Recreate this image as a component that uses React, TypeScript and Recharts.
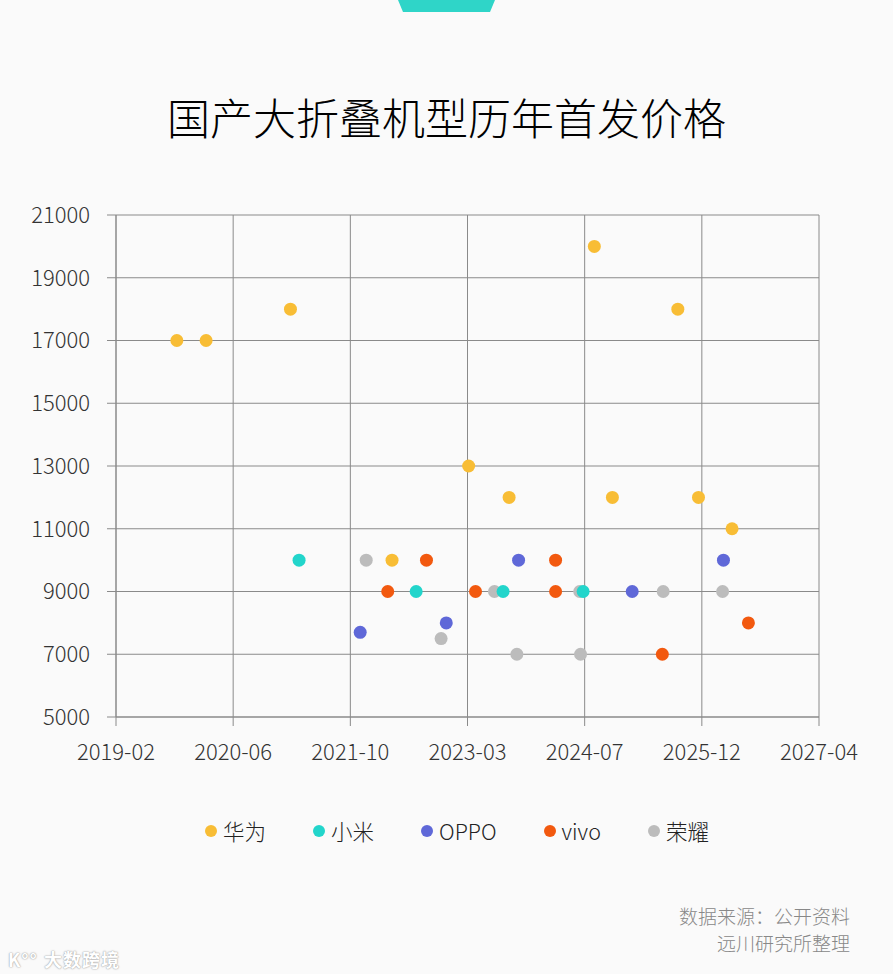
import {
  ScatterChart,
  Scatter,
  XAxis,
  YAxis,
  CartesianGrid,
} from "recharts";

// x values are decimal years (launch date), y values are launch prices (CNY)
const xTickLabels = ["2019-02", "2020-06", "2021-10", "2023-03", "2024-07", "2025-12", "2027-04"];
const yTicks = [5000, 7000, 9000, 11000, 13000, 15000, 17000, 19000, 21000];

const huaweiDates = [2019.79, 2020.13, 2021.11, 2022.29, 2023.18, 2023.65, 2024.64, 2024.85, 2025.61, 2025.85, 2026.24];
const huaweiPrices = [17000, 17000, 18000, 10000, 13000, 12000, 20000, 12000, 18000, 12000, 11000];

const xiaomiDates = [2021.21, 2022.57, 2023.58, 2024.51];
const xiaomiPrices = [10000, 9000, 9000, 9000];

const oppoDates = [2021.92, 2022.92, 2023.76, 2025.08, 2026.14];
const oppoPrices = [7700, 8000, 10000, 9000, 10000];

const vivoDates = [2022.24, 2022.69, 2023.26, 2024.19, 2024.19, 2025.43, 2026.43];
const vivoPrices = [9000, 10000, 9000, 10000, 9000, 7000, 8000];

const honorDates = [2021.99, 2022.86, 2023.48, 2023.74, 2024.48, 2024.47, 2025.44, 2026.13];
const honorPrices = [10000, 7500, 9000, 7000, 7000, 9000, 9000, 9000];

const xStart = 2019 + 1 / 12;
const xEnd = 2027 + 3 / 12;
const xTicks = xTickLabels.map((_, i) => xStart + (i * (xEnd - xStart)) / (xTickLabels.length - 1));

const toPoints = (dates: number[], prices: number[]) =>
  dates.map((x, i) => ({ x, y: prices[i] }));

interface Brand {
  name: string;
  color: string;
  data: { x: number; y: number }[];
}

const brands: Brand[] = [
  { name: "华为", color: "#f8bd35", data: toPoints(huaweiDates, huaweiPrices) },
  { name: "小米", color: "#22d5cb", data: toPoints(xiaomiDates, xiaomiPrices) },
  { name: "OPPO", color: "#5f68d8", data: toPoints(oppoDates, oppoPrices) },
  { name: "vivo", color: "#f2590f", data: toPoints(vivoDates, vivoPrices) },
  { name: "荣耀", color: "#bcbcbc", data: toPoints(honorDates, honorPrices) },
];

// draw order: grey first so the coloured dots sit on top
const drawOrder = ["荣耀", "华为", "OPPO", "vivo", "小米"];

const FONT = '"Noto Sans CJK SC", "Noto Sans", sans-serif';
const GRID = "#8a8a8a";

const dot = (color: string) => (props: any) =>
  <circle cx={props.cx} cy={props.cy} r={6.5} fill={color} />;

export default function App() {
  return (
    <div
      style={{
        position: "absolute",
        left: 0,
        top: 0,
        width: 893,
        height: 974,
        background: "#fafafa",
        fontFamily: FONT,
        fontWeight: 300,
        overflow: "hidden",
      }}
    >
      <svg width={893} height={14} style={{ position: "absolute", left: 0, top: 0 }}>
        <polygon points="398,0 495,0 490,12 403,12" fill="#2fd5c8" />
      </svg>

      <div
        style={{
          position: "absolute",
          top: 93,
          left: 0,
          width: 893,
          textAlign: "center",
          fontSize: 43,
          lineHeight: "46px",
          color: "#000",
        }}
      >
        国产大折叠机型历年首发价格
      </div>

      <ScatterChart
        width={893}
        height={974}
        margin={{ top: 215, right: 74, bottom: 217, left: 0 }}
        style={{ position: "absolute", left: 0, top: 0 }}
      >
        <CartesianGrid stroke={GRID} strokeWidth={1} />
        <XAxis
          type="number"
          dataKey="x"
          domain={[xStart, xEnd]}
          ticks={xTicks}
          interval={0}
          allowDataOverflow
          height={40}
          tickSize={9}
          tickMargin={18}
          stroke={GRID}
          tick={{ fontSize: 22, fill: "#333", fontFamily: FONT, fontWeight: 300 }}
          tickFormatter={(_v: number, i: number) => xTickLabels[i]}
        />
        <YAxis
          type="number"
          dataKey="y"
          domain={[5000, 21000]}
          ticks={yTicks}
          interval={0}
          width={116}
          tickSize={9}
          tickMargin={17}
          stroke={GRID}
          tick={{ fontSize: 22, fill: "#333", fontFamily: FONT, fontWeight: 300 }}
        />
        {drawOrder.map((n) => {
          const b = brands.find((s) => s.name === n)!;
          return (
            <Scatter
              key={b.name}
              name={b.name}
              data={b.data}
              fill={b.color}
              shape={dot(b.color)}
              isAnimationActive={false}
            />
          );
        })}
      </ScatterChart>

      <div
        style={{
          position: "absolute",
          top: 818,
          left: 205,
          display: "flex",
          gap: 47,
          alignItems: "center",
          fontSize: 21.5,
          color: "#222",
          lineHeight: "26px",
        }}
      >
        {brands.map((b) => (
          <div key={b.name} style={{ display: "flex", alignItems: "center" }}>
            <span
              style={{
                display: "inline-block",
                width: 12,
                height: 12,
                borderRadius: 6,
                background: b.color,
                marginRight: 6,
              }}
            />
            <span>{b.name}</span>
          </div>
        ))}
      </div>

      <div
        style={{
          position: "absolute",
          right: 43,
          top: 902,
          textAlign: "right",
          fontSize: 19,
          lineHeight: "27px",
          color: "#888",
        }}
      >
        <div>数据来源：公开资料</div>
        <div>远川研究所整理</div>
      </div>

      <div
        style={{
          position: "absolute",
          left: 8,
          top: 946,
          fontSize: 18,
          fontWeight: 700,
          color: "#fff",
          textShadow: "0 0 2px #aaa, 0 0 1px #999",
          letterSpacing: 1,
        }}
      >
        <span style={{ marginRight: 6 }}>K°°</span>大数跨境
      </div>
    </div>
  );
}
